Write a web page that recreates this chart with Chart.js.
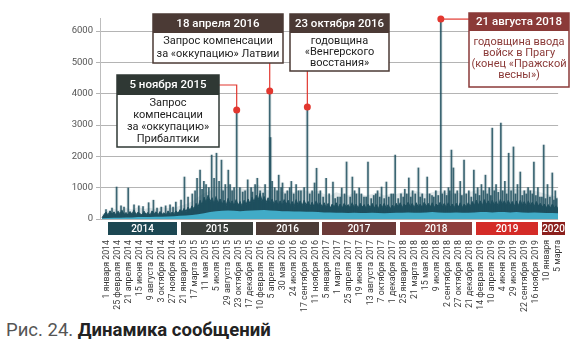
<!DOCTYPE html>
<html>
<head>
<meta charset="utf-8">
<script src="https://cdn.jsdelivr.net/npm/chart.js@4/dist/chart.umd.min.js"></script>
<style>
html, body { margin: 0; padding: 0; background: #fff; width: 585px; height: 354px; overflow: hidden; }
#wrap { position: relative; width: 585px; height: 354px; }
canvas { position: absolute; left: 0; top: 0; }
.caption { position: absolute; left: 6px; top: 320px; font-family: Roboto, sans-serif; font-size: 18.5px; line-height: 21px; color: #555; white-space: nowrap; }
.caption b { color: #222; }
</style>
</head>
<body>
<div id="wrap">
    <canvas id="chart" width="585" height="312"></canvas>
    <div class="caption">Рис. 24. <b>Динамика сообщений</b></div>
</div>
<script>
// days are counted from 1 January 2014
var tickLabels = [
    '1 января 2014', '25 февраля 2014', '21 апреля 2014', '15 июня 2014', '9 августа 2014',
    '3 октября 2014', '27 ноября 2014', '21 января 2015', '17 марта 2015', '11 мая 2015',
    '5 июля 2015', '29 августа 2015', '23 октября 2015', '17 декабря 2015', '10 февраля 2016',
    '5 апреля 2016', '30 мая 2016', '24 июля 2016', '17 сентября 2016', '11 ноября 2016',
    '5 января 2017', '1 марта 2017', '25 апреля 2017', '19 июня 2017', '13 августа 2017',
    '7 октября 2017', '1 декабря 2017', '25 января 2018', '21 марта 2018', '15 мая 2018',
    '9 июля 2018', '2 сентября 2018', '27 октября 2018', '21 декабря 2018', '14 февраля 2019',
    '10 апреля 2019', '4 июня 2019', '29 июля 2019', '22 сентября 2019', '16 ноября 2019',
    '10 января', '5 марта'
];
var tickStep = 55;
var yTicks = [0, 1000, 2000, 3000, 4000, 5000, 6000];

// dark band, one value per 10 days
var bandStep = 10;
var bandValues = [
    // 2014
    40, 140, 220, 130, 260, 150, 230, 120, 250, 170, 280, 140, 210, 120, 240, 160, 290, 140, 220,
    170, 130, 250, 150, 210, 120, 260, 170, 230, 130, 240, 150, 200, 120, 260, 140, 220, 170,
    // 2015
    260, 180, 300, 220, 340, 240, 380, 280, 420, 320, 500, 380, 600, 440, 700, 520, 760, 560,
    680, 480, 720, 500, 640, 460, 600, 420, 660, 460, 580, 420, 620, 440, 560, 400, 600, 460,
    // 2016
    640, 480, 700, 540, 760, 600, 820, 560, 720, 520, 680, 480, 640, 460, 600, 440, 580, 420, 620,
    460, 600, 420, 560, 400, 620, 440, 580, 420, 600, 440, 560, 400, 540, 380, 580, 420, 520,
    // 2017
    380, 520, 360, 500, 340, 480, 380, 520, 360, 480, 340, 500, 380, 460, 340, 520, 360, 480,
    340, 500, 380, 460, 330, 480, 360, 500, 340, 460, 320, 480, 360, 500, 340, 460, 320, 440,
    // 2018
    360, 500, 380, 520, 360, 480, 400, 540, 380, 500, 360, 520, 380, 480, 360, 540, 400, 500, 380,
    520, 360, 480, 400, 540, 380, 500, 360, 520, 380, 480, 360, 500, 380, 520, 360, 480, 380,
    // 2019
    520, 400, 560, 420, 600, 440, 580, 420, 620, 460, 580, 420, 600, 440, 560, 400, 620, 460,
    580, 420, 600, 440, 560, 400, 580, 420, 600, 440, 560, 400, 580, 420, 540, 400, 560, 420,
    // 2020
    500, 380, 480, 360, 460, 340, 480, 360, 420, 300
];

// light base and pale haze, one value per 30 days
var baseStep = 30;
var baseValues = [
    20, 30, 40, 40, 50, 50, 60, 60, 60, 70, 70, 80, 90,
    100, 110, 130, 150, 180, 220, 250, 260, 270, 260, 250, 260,
    270, 280, 290, 270, 260, 250, 250, 240, 240, 230, 230, 220,
    210, 210, 200, 200, 190, 200, 190, 190, 200, 190, 180, 190,
    200, 200, 210, 200, 200, 210, 220, 210, 200, 200, 210, 200,
    200, 210, 220, 220, 210, 220, 220, 210, 220, 210, 200, 210, 200,
    190, 190, 180
];
var hazeValues = [
    150, 260, 320, 280, 350, 300, 380, 320, 360, 300, 380, 340, 360,
    420, 480, 560, 700, 820, 900, 1000, 950, 1050, 900, 1000, 950,
    1000, 1100, 950, 900, 950, 850, 900, 850, 950, 900, 850, 900,
    800, 750, 850, 800, 750, 850, 800, 750, 800, 850, 750, 800,
    800, 850, 800, 900, 850, 800, 850, 900, 850, 800, 850, 800,
    850, 900, 950, 900, 1000, 950, 900, 1000, 950, 900, 950, 900, 850,
    800, 750, 700
];

// single-day peaks
var spikeDays = [
    73, 131, 184, 233, 257, 296, 340, 369,
    412, 451, 475, 490, 509, 534, 548, 572, 597, 616, 631, 650, 673, 689, 703, 728,
    752, 776, 805, 838, 842, 863, 883, 902, 926, 946, 970, 994, 1026, 1038, 1062, 1072, 1091,
    1120, 1154, 1178, 1198, 1222, 1251, 1271, 1285, 1309, 1329, 1358, 1377, 1397, 1421, 1445, 1465,
    1494, 1513, 1533, 1552, 1581, 1600, 1625, 1649, 1668, 1693, 1712, 1731, 1746, 1756, 1775, 1790, 1809, 1833,
    1858, 1877, 1896, 1916, 1935, 1950, 1969, 1993, 2013, 2032, 2056, 2076, 2090, 2110, 2129, 2158, 2178,
    2207, 2226, 2250, 2265
];
var spikeValues = [
    1020, 990, 420, 520, 600, 380, 450, 540,
    1340, 800, 1300, 1560, 1200, 1000, 2040, 2100, 1880, 1100, 1560, 900, 3480, 1000, 860, 1250,
    860, 1300, 830, 4085, 2600, 1000, 1400, 1150, 900, 1200, 1100, 900, 3575, 800, 1150, 1620, 900,
    1300, 1180, 700, 990, 1820, 1340, 800, 990, 700, 1820, 750, 900, 1020, 1180, 800, 2040,
    800, 950, 1310, 900, 1630, 800, 1340, 750, 900, 6380, 900, 1000, 2200, 1630, 900, 1200, 1880, 900,
    1560, 1000, 1100, 1400, 1000, 2900, 1100, 3060, 1200, 2100, 2300, 1100, 1500, 900, 1000, 1820, 1000,
    2360, 1100, 1470, 900
];
// smaller peaks
var minorDays = [
    20, 50, 95, 110, 160, 205, 275, 318, 355,
    395, 430, 465, 500, 520, 560, 585, 605, 640, 660, 715,
    745, 765, 790, 815, 850, 875, 895, 915, 938, 958, 982, 1010, 1050, 1083,
    1105, 1135, 1165, 1190, 1212, 1240, 1262, 1296, 1320, 1345, 1368, 1388, 1410, 1433, 1455, 1480,
    1505, 1523, 1543, 1565, 1590, 1612, 1637, 1658, 1680, 1700, 1722, 1738, 1765, 1798, 1820, 1845,
    1867, 1886, 1906, 1925, 1943, 1960, 1980, 2002, 2022, 2044, 2066, 2100, 2120, 2140, 2150, 2168, 2188,
    2198, 2216, 2238, 2258, 2272
];
var minorValues = [
    300, 350, 420, 380, 450, 400, 350, 420, 380,
    600, 700, 900, 950, 1100, 1300, 1200, 900, 1100, 1000, 900,
    1000, 1100, 900, 1100, 1200, 900, 1000, 800, 1000, 800, 900, 1000, 900, 800,
    700, 800, 650, 700, 800, 700, 900, 800, 700, 650, 800, 700, 650, 700, 800, 650,
    700, 800, 700, 800, 700, 650, 800, 700, 750, 800, 750, 900, 800, 750, 800, 700,
    800, 750, 900, 800, 750, 900, 850, 900, 800, 900, 800, 750, 800, 900, 800, 750, 700,
    700, 650, 700, 600, 650
];

var years = ['2014', '2015', '2016', '2017', '2018', '2019', '2020'];
var yearFrom = [29, 393, 767, 1101, 1489, 1868, 2197];
var yearTo = [374, 752, 1082, 1470, 1848, 2178, 2313];
var yearColors = ['#1c4752', '#3a3f3b', '#4c3c37', '#6b3a38', '#8f3e3c', '#d42b27', '#8c201d'];

var eventDays = [673, 838, 1026, 1693];
var eventPeaks = [3480, 4085, 3575, 6380];
var eventDates = ['5 ноября 2015', '18 апреля 2016', '23 октября 2016', '21 августа 2018'];
var eventTexts = [
    ['Запрос', 'компенсации', 'за «оккупацию»', 'Прибалтики'],
    ['Запрос компенсации', 'за «оккупацию» Латвии'],
    ['годовщина', '«Венгерского', 'восстания»'],
    ['годовщина ввода', 'войск в Прагу', '(конец «Пражской', 'весны»)']
];

// box layout: x, y, width, header height, total height, line height, colours, link type
var boxes = [
    { x: 117, y: 75, w: 102, head: 20, h: 72, lh: 12, color: '#2f3834', text: '#222', link: 'side' },
    { x: 153, y: 14, w: 130, head: 19, h: 49, lh: 13, color: '#4b3a35', text: '#222', link: 'down' },
    { x: 290, y: 14, w: 99, head: 19, h: 57, lh: 11, color: '#4b3a35', text: '#222', link: 'down' },
    { x: 469, y: 13, w: 100, head: 18, h: 74, lh: 11, color: '#8b3a38', text: '#8b3a38', link: 'left' }
];

var DARK = '#1e4f5e';
var CYAN = '#41abc7';
var RED = '#e2372f';

function toPoints(values, step) {
    return values.map(function (v, i) { return { x: i * step, y: v }; });
}

function pairPoints(days, values) {
    return days.map(function (d, i) { return { x: d, y: values[i] }; });
}

var peakPoints = pairPoints(spikeDays, spikeValues).concat(pairPoints(minorDays, minorValues));

var overlay = {
    id: 'overlay',
    afterDraw: function (chart) {
        var ctx = chart.ctx;
        var xs = chart.scales.x;
        var ys = chart.scales.y;
        var area = chart.chartArea;

        // year strip
        ctx.save();
        ctx.textAlign = 'center';
        ctx.textBaseline = 'middle';
        ctx.font = '500 10px Roboto, sans-serif';
        years.forEach(function (y, i) {
            var x0 = Math.round(xs.getPixelForValue(yearFrom[i]));
            var x1 = Math.round(xs.getPixelForValue(yearTo[i]));
            ctx.fillStyle = yearColors[i];
            ctx.fillRect(x0, area.bottom + 3, x1 - x0, 13);
            ctx.fillStyle = '#fff';
            ctx.fillText(y, (x0 + x1) / 2, area.bottom + 10);
        });
        ctx.restore();

        // event call-outs
        boxes.forEach(function (b, i) {
            var px = xs.getPixelForValue(eventDays[i]);
            var py = ys.getPixelForValue(eventPeaks[i]);

            ctx.save();
            ctx.strokeStyle = RED;
            ctx.lineWidth = 1.2;
            ctx.beginPath();
            if (b.link === 'side') {
                var hy = b.y + b.head / 2;
                ctx.moveTo(b.x + b.w, hy);
                ctx.lineTo(px, hy);
                ctx.lineTo(px, py);
            } else if (b.link === 'down') {
                ctx.moveTo(px, b.y + b.h);
                ctx.lineTo(px, py);
            } else {
                ctx.moveTo(px, py);
                ctx.lineTo(b.x, py);
            }
            ctx.stroke();
            ctx.fillStyle = RED;
            ctx.beginPath();
            ctx.arc(px, py, 3.5, 0, Math.PI * 2);
            ctx.fill();

            ctx.fillStyle = '#fff';
            ctx.fillRect(b.x, b.y, b.w, b.h);
            ctx.strokeStyle = b.color;
            ctx.lineWidth = 1.5;
            ctx.strokeRect(b.x, b.y, b.w, b.h);
            ctx.fillStyle = b.color;
            ctx.fillRect(b.x, b.y, b.w, b.head);

            ctx.textAlign = 'center';
            ctx.textBaseline = 'middle';
            ctx.fillStyle = '#fff';
            ctx.font = '500 11.5px Roboto, sans-serif';
            ctx.fillText(eventDates[i], b.x + b.w / 2, b.y + b.head / 2 + 0.5);

            ctx.fillStyle = b.text;
            ctx.font = '11px Roboto, sans-serif';
            var lines = eventTexts[i];
            var bodyTop = b.y + b.head;
            var bodyH = b.h - b.head;
            var start = bodyTop + bodyH / 2 - (lines.length - 1) * b.lh / 2;
            lines.forEach(function (t, k) {
                ctx.fillText(t, b.x + b.w / 2, start + k * b.lh);
            });
            ctx.restore();
        });
    }
};

var tickFont = { family: 'Roboto, sans-serif', size: 8.8 };

new Chart(document.getElementById('chart'), {
    type: 'line',
    data: {
        datasets: [
            {
                label: 'base',
                data: toPoints(baseValues, baseStep),
                borderWidth: 0,
                backgroundColor: CYAN,
                fill: 'origin',
                pointRadius: 0,
                order: 0
            },
            {
                type: 'bar',
                label: 'peaks',
                data: peakPoints,
                backgroundColor: 'rgba(30, 79, 94, 0.85)',
                barThickness: 1,
                grouped: false,
                order: 1
            },
            {
                type: 'bar',
                label: 'peak halo',
                data: peakPoints,
                backgroundColor: 'rgba(30, 79, 94, 0.12)',
                barThickness: 3,
                grouped: false,
                order: 3
            },
            {
                label: 'messages',
                data: toPoints(bandValues, bandStep),
                borderColor: DARK,
                borderWidth: 1,
                backgroundColor: DARK,
                fill: 'origin',
                pointRadius: 0,
                order: 2
            },
            {
                label: 'haze',
                data: toPoints(hazeValues, baseStep),
                borderWidth: 0,
                backgroundColor: 'rgba(30, 79, 94, 0.13)',
                fill: 'origin',
                pointRadius: 0,
                order: 4
            }
        ]
    },
    options: {
        responsive: false,
        animation: false,
        events: [],
        layout: { padding: { top: 18, right: 13, left: 0, bottom: 0 } },
        plugins: { legend: { display: false }, tooltip: { enabled: false } },
        scales: {
            x: {
                type: 'linear',
                min: -10,
                max: 2279,
                offset: false,
                grid: { display: false, drawTicks: false },
                border: { display: false },
                afterBuildTicks: function (s) {
                    s.ticks = tickLabels.map(function (l, i) { return { value: i * tickStep }; });
                },
                afterFit: function (s) { s.height = 93; },
                ticks: {
                    autoSkip: false,
                    maxRotation: 90,
                    minRotation: 90,
                    padding: 21,
                    labelOffset: 5,
                    color: '#3a3a3a',
                    font: tickFont,
                    callback: function (v, i) { return tickLabels[i]; }
                }
            },
            y: {
                min: 0,
                max: 6415,
                afterBuildTicks: function (s) {
                    s.ticks = yTicks.map(function (v) { return { value: v }; });
                },
                afterFit: function (s) { s.width = 100; },
                grid: { color: '#b4b4b4', lineWidth: 1, tickLength: 4 },
                border: { color: '#bdbdbd', width: 1 },
                ticks: {
                    padding: 3,
                    color: '#555',
                    font: { family: 'Roboto, sans-serif', size: 9.5 },
                    callback: function (v) { return v; }
                }
            }
        }
    },
    plugins: [overlay]
});
</script>
</body>
</html>
